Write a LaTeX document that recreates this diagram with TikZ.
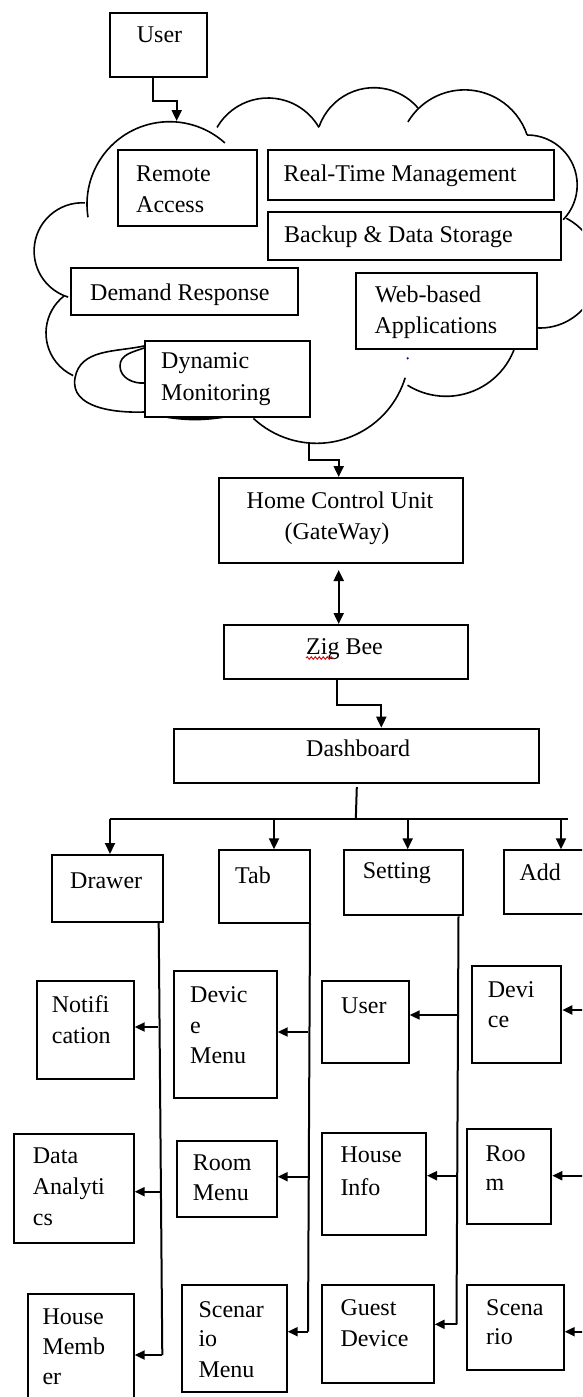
\documentclass[tikz,border=0pt]{standalone}
\usepackage{fontspec}
\setmainfont{Liberation Serif}
\usetikzlibrary{arrows.meta,decorations.pathmorphing}
\newcommand{\bx}[5]{\node[box, minimum width={(#4-(#2))*1pt}, minimum height={(#5-(#3))*1pt}] (#1) at (#2,-#3) {};}
\newcommand{\tx}[4]{\node[txt, anchor=base west] (#1) at (#2,-#3) {#4};}
\newcommand{\tc}[4]{\node[txt, anchor=base] (#1) at (#2,-#3) {#4};}
\newcommand{\bump}[5]{\draw[cloudline] (#1,-#2) ++(#4:#3) arc[start angle=#4, end angle=#5, radius=#3];}
\begin{document}
\begin{tikzpicture}[x=1pt,y=1pt,
  box/.style={draw, line width=2pt, fill=white, inner sep=0pt, anchor=north west},
  txt/.style={inner sep=0pt, font=\fontsize{24}{31}\selectfont},
  arr/.style={line width=2pt, -{Triangle[length=11pt,width=10pt]}},
  sarr/.style={line width=2pt, -{Triangle[length=10pt,width=9pt]}},
  dbl/.style={line width=2pt, {Triangle[length=11pt,width=10pt]}-{Triangle[length=11pt,width=10pt]}},
  ln/.style={line width=2pt},
  cloudline/.style={line width=1.6pt}]
\useasboundingbox (0,0) rectangle (582,-1397);
\clip (0,0) rectangle (582,-1397);

% ---------- cloud ----------
\bump{169.6}{204.3}{82.6}{189}{48}
\bump{268}{156.8}{58.8}{150}{30}
\bump{373.9}{145.7}{58}{161}{40.5}
\bump{464.5}{155.9}{66}{149}{18.5}
\bump{527.2}{185}{50}{90}{-44}
\bump{540}{270}{58}{63}{-93}
\bump{446.1}{323.5}{72.8}{-19}{-122}
\bump{316.6}{350.7}{92.6}{-17}{-133}
\bump{93}{333}{47}{128}{245}
\bump{82.3}{251}{48.2}{87}{253}
\draw[cloudline] (144,-346) to[out=192,in=80] (75,-378) to[out=-100,in=182] (144,-412);
\draw[cloudline] (144,-348) to[out=200,in=90] (120,-366) to[out=-90,in=185] (145,-383);
\draw[line width=2.2pt] (167,-417) to[out=-8,in=188] (223,-417);
\coordinate (cloudtop) at (176.7,-121);
\coordinate (cloudbot) at (309.3,-443);

% ---------- boxes ----------
\bx{user}{109}{12}{206}{76}
\bx{remote}{116.7}{149}{255.7}{225}
\bx{rtm}{266.7}{149}{552.7}{199}
\bx{backup}{266.7}{210.7}{560}{259.3}
\bx{demand}{70}{267}{297}{314}
\bx{web}{355}{271.7}{536}{347.7}
\bx{dyn}{144}{340}{309.3}{416}
\bx{hcu}{218}{477}{462}{562}
\bx{zig}{222.7}{624}{466.7}{678}
\bx{dash}{173.3}{727.7}{538.3}{782}
\bx{drawer}{50.7}{854}{162.3}{920.7}
\bx{tab}{217.7}{849.3}{309.3}{921.7}
\bx{setting}{342.7}{849.3}{462}{914.3}
\bx{add}{503}{849.3}{595}{913.3}
\bx{notif}{35.7}{980}{132.7}{1078.3}
\bx{da}{13.3}{1132.7}{132.7}{1241.7}
\bx{hm}{26.7}{1293.3}{132.7}{1410}
\bx{devm}{173.3}{970}{275.7}{1097.3}
\bx{roomm}{175.7}{1140}{275.7}{1215.7}
\bx{scenm}{180.7}{1284.3}{285.7}{1391}
\bx{suser}{321}{980}{407.7}{1062.3}
\bx{hinfo}{321}{1132.3}{425}{1234.3}
\bx{guest}{321}{1284.3}{432.7}{1381.7}
\bx{adev}{471}{965}{560.3}{1062.3}
\bx{aroom}{466}{1128.3}{550.3}{1222.7}
\bx{ascen}{466}{1284.3}{562.7}{1369}

% ---------- texts ----------
\tx{t1}{136.7}{43}{User}
\tx{t2}{136}{181}{Remote}
\tx{t3}{136}{212}{Access}
\tx{t4}{283.3}{181}{Real-Time Management}
\tx{t5}{284}{242}{Backup \& Data Storage}
\tx{t6}{90}{300}{Demand Response}
\tx{t7}{375}{302}{Web-based}
\tx{t8}{374.3}{333}{Applications}
\tx{t9}{161}{368}{Dynamic}
\tx{t10}{161}{400}{Monitoring}
\tc{t11}{340}{508}{Home Control Unit}
\tc{t12}{337}{539}{(GateWay)}
\tx{t13}{306}{654}{Zig Bee}
\tx{t14}{306}{756}{Dashboard}
\tx{t15}{70}{888}{Drawer}
\tx{t16}{235}{883}{Tab}
\tx{t17}{362.7}{878}{Setting}
\tx{t18}{519.3}{880}{Add}
\tx{t19}{51.7}{1012}{Notifi}
\tx{t20}{51.7}{1043}{cation}
\tx{t21}{32.7}{1163}{Data}
\tx{t22}{32.7}{1194}{Analyti}
\tx{t23}{32.7}{1225}{cs}
\tx{t24}{42.3}{1324}{House}
\tx{t25}{42.3}{1354}{Memb}
\tx{t26}{42.3}{1384}{er}
\tx{t27}{190}{1002}{Devic}
\tx{t28}{190}{1033}{e}
\tx{t29}{190}{1063}{Menu}
\tx{t30}{192.7}{1170}{Room}
\tx{t31}{192.7}{1200}{Menu}
\tx{t32}{198.3}{1317}{Scenar}
\tx{t33}{198.3}{1346}{io}
\tx{t34}{198.3}{1377}{Menu}
\tx{t35}{341}{1013}{User}
\tx{t36}{340.3}{1162}{House}
\tx{t37}{340.3}{1195}{Info}
\tx{t38}{340.3}{1315}{Guest}
\tx{t39}{340.3}{1346}{Device}
\tx{t40}{487.7}{997}{Devi}
\tx{t41}{487.7}{1027.5}{ce}
\tx{t42}{485.3}{1161}{Roo}
\tx{t43}{485.3}{1190.5}{m}
\tx{t44}{486}{1315}{Scena}
\tx{t45}{486}{1344}{rio}

% spell-check squiggle and stray dot
\draw[red!85!black, line width=0.9pt, decorate, decoration={snake, amplitude=1.3pt, segment length=4pt}] (306,-658) -- (334,-658);
\fill[blue!60!black] (407.7,-358.3) circle (1.2pt);

% ---------- connectors ----------
\draw[arr] ([xshift=-5.8pt]user.south) -- ++(0,-23.3) -| (cloudtop);
\draw[arr] (cloudbot) -- ++(0,-16.5) -| ([xshift=-2.3pt]hcu.north);
\draw[dbl, shorten <=6pt] ([xshift=-2.3pt]hcu.south) -- ([xshift=-7pt]zig.north);
\draw[arr] ([xshift=-8.7pt]zig.south) -- ++(0,-24.6) -| ([xshift=24.5pt]dash.north);

\coordinate (bus) at (355.8,-819.3);
\coordinate (busL) at (110,-819.3);
\coordinate (busR) at (567.7,-819.3);
\coordinate (tabj) at (274,-819.3);
\coordinate (setj) at (407.7,-819.3);
\coordinate (addj) at (561,-819.3);
\draw[ln] ([yshift=-3pt]dash.south) -- (bus);
\draw[ln] (busL) -- (busR);
\draw[arr] (busL) -- (busL |- drawer.north);
\draw[arr] (tabj) -- (tabj |- tab.north);
\draw[arr] (setj) -- (setj |- setting.north);
\draw[arr] (addj) -- (addj |- add.north);

% drawer branch
\coordinate (dbot) at (162.3,-1355);
\coordinate (nj) at (158,-1027);
\coordinate (daj) at (160.2,-1191.7);
\draw[ln] ([xshift=-5.6pt]drawer.south east) -- (dbot);
\draw[sarr] (nj) -- (nj -| notif.east);
\draw[sarr] (daj) -- (daj -| da.east);
\draw[sarr] (dbot) -- (dbot -| hm.east);

% tab branch
\coordinate (tbot) at (308,-1331.7);
\coordinate (tj1) at (308,-1032);
\coordinate (tj2) at (308,-1176.7);
\draw[ln] ([xshift=-1.3pt]tab.south east) -- (tbot);
\draw[sarr] (tj1) -- (tj1 -| devm.east);
\draw[sarr] (tj2) -- (tj2 -| roomm.east);
\draw[sarr] (tbot) -- (tbot -| scenm.east);

% setting branch
\coordinate (sbot) at (456.5,-1324.3);
\coordinate (sj1) at (456.5,-1015);
\coordinate (sj2) at (456.5,-1175.7);
\draw[ln] ([xshift=-5.5pt]setting.south east) -- (sbot);
\draw[sarr] (sj1) -- (sj1 -| suser.east);
\draw[sarr] (sj2) -- (sj2 -| hinfo.east);
\draw[sarr] (sbot) -- (sbot -| guest.east);

% add branch (its vertical line lies beyond the right edge)
\coordinate (aj1) at (590,-1010);
\coordinate (aj2) at (590,-1175.7);
\coordinate (aj3) at (590,-1331.7);
\draw[sarr] (aj1) -- (aj1 -| adev.east);
\draw[sarr] (aj2) -- (aj2 -| aroom.east);
\draw[sarr] (aj3) -- (aj3 -| ascen.east);
\end{tikzpicture}
\end{document}
